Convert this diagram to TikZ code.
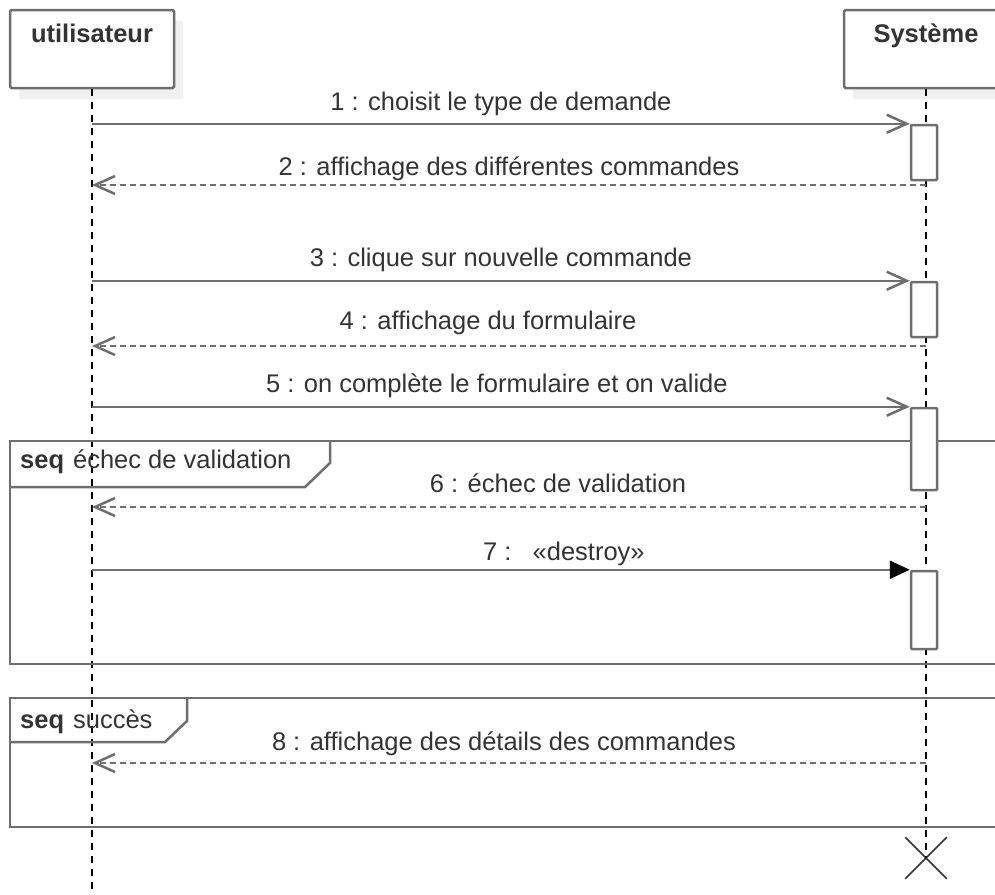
\documentclass[tikz,border=0pt]{standalone}
\usepackage{fontspec}
\setmainfont{Liberation Sans}
\usepackage{tikz}
\usetikzlibrary{arrows.meta,shapes.misc,shadows}
\definecolor{linegray}{HTML}{6E6E6E}
\definecolor{textgray}{HTML}{333333}

\begin{document}
\begin{tikzpicture}[x=1pt,y=-1pt,
    every node/.style={font=\fontsize{25.5}{30}\selectfont, text=textgray},
    actor/.style={rectangle, draw=linegray, line width=2.5pt, fill=white, rounded corners=1.5pt,
        minimum width=164pt, minimum height=78pt,
        drop shadow={shadow xshift=9pt, shadow yshift=-11pt, opacity=0.06, fill=black}},
    actorname/.style={anchor=base, inner sep=0pt, font=\fontsize{25.5}{30}\selectfont\bfseries},
    activation/.style={rectangle, draw=linegray, line width=2.5pt, fill=white, rounded corners=1pt,
        minimum width=26pt, inner sep=0pt},
    lifeline/.style={draw=black, line width=2pt, dash pattern=on 7pt off 6pt},
    msg/.style={draw=linegray, line width=2.5pt, -{Straight Barb[length=20pt,width=18pt]}},
    ret/.style={msg, dash pattern=on 6pt off 4pt},
    killmsg/.style={draw=linegray, line width=2.5pt, -{Triangle[length=20pt,width=18pt,color=black]}},
    msglabel/.style={anchor=base, inner sep=0pt, yshift=13pt},
    frame/.style={draw=linegray, line width=2.5pt},
    framelabel/.style={anchor=base west, inner sep=0pt},
    destroyed/.style={cross out, draw=textgray, line width=1.5pt, minimum size=40pt, inner sep=0pt}]

    \clip (0,0) rectangle (995,894);

    \node[actor] (usr) at (92,49) {};
    \node[actorname] (usr_name) at ([yshift=-34pt]usr.north) {utilisateur};
    \node[actor] (sys) at (926,49) {};
    \node[actorname] (sys_name) at ([yshift=-34pt]sys.north) {Système};

    \coordinate (usr_end) at (92,894);
    \node[destroyed] (sys_end) at (926,858) {};
    \draw[lifeline] (usr.south) -- (usr_end);
    \draw[lifeline] (sys.south) -- (sys_end.center);

    \draw[frame] (10,441) rectangle (1010,664);
    \draw[frame] (10,487) -- (305,487) -- (330,463) -- (330,441);
    \node[framelabel] (seq_1) at (20,468) {\textbf{seq}\hspace{9pt}échec de validation};

    \draw[frame] (10,698) rectangle (1010,827);
    \draw[frame] (10,742) -- (165,742) -- (187,721) -- (187,698);
    \node[framelabel] (seq_2) at (20,728) {\textbf{seq}\hspace{9pt}succès};

    \node[activation, minimum height=55pt] (act_1) at (924,152.5) {};
    \node[activation, minimum height=55pt] (act_2) at (924,309.5) {};
    \node[activation, minimum height=82pt] (act_3) at (924,449) {};
    \node[activation, minimum height=78pt] (act_4) at (924,610) {};

    \coordinate (ret_2) at (926,185);
    \coordinate (ret_4) at (926,346);
    \coordinate (ret_6) at (926,507);
    \coordinate (ret_8) at (926,763);

    \draw[msg] (usr_end |- act_1.north) -- node[msglabel] {1 : choisit le type de demande} (act_1.north west);
    \draw[ret] (ret_2) -- node[msglabel, yshift=-3pt] {2 : affichage des différentes commandes} (ret_2 -| usr_end);
    \draw[msg] (usr_end |- act_2.north) -- node[msglabel, yshift=1pt] {3 : clique sur nouvelle commande} (act_2.north west);
    \draw[ret] (ret_4) -- node[msglabel, xshift=-21pt, yshift=4pt] {4 : affichage du formulaire} (ret_4 -| usr_end);
    \draw[msg] (usr_end |- act_3.north) -- node[msglabel, xshift=-4pt, yshift=1pt] {5 : on complète le formulaire et on valide} (act_3.north west);
    \draw[ret] (ret_6) -- node[msglabel, xshift=49pt, yshift=2pt] {6 : échec de validation} (ret_6 -| usr_end);
    \draw[killmsg] (usr_end |- act_4.north) -- node[msglabel, xshift=63pt, yshift=-4pt] {7 :\ \ \ «destroy»} (act_4.north west);
    \draw[ret] (ret_8) -- node[msglabel, xshift=-5pt] {8 : affichage des détails des commandes} (ret_8 -| usr_end);
\end{tikzpicture}
\end{document}
